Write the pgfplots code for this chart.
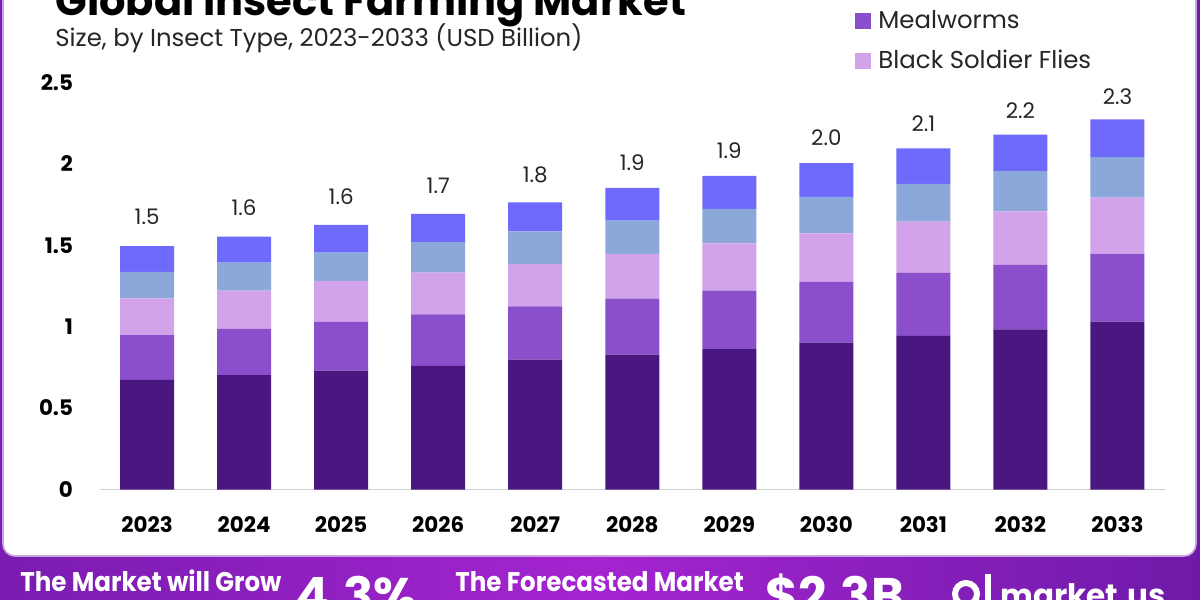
\documentclass[border=0pt]{standalone}
\usepackage{pgfplots}
\usepackage{pgfplotstable}
\pgfplotsset{compat=1.18}
\usepackage{fontspec}
\setmainfont{Poppins}
\usetikzlibrary{shadings}

\definecolor{cBase}{HTML}{4A1680}
\definecolor{cMeal}{HTML}{8B4FCC}
\definecolor{cBSF}{HTML}{D2A3EB}
\definecolor{cFour}{HTML}{8CA7DA}
\definecolor{cFive}{HTML}{6F6AFC}
\definecolor{bandL}{HTML}{7A1CB0}
\definecolor{bandM}{HTML}{A424D0}
\definecolor{bandR}{HTML}{6E1AA8}
\definecolor{panelEdge}{HTML}{C9A6E0}

% market size by insect type, USD billion
\pgfplotstableread{
idx base  meal  bsf   four  five
0   0.673 0.276 0.225 0.163 0.158
1   0.703 0.283 0.235 0.172 0.160
2   0.730 0.299 0.252 0.174 0.170
3   0.760 0.316 0.256 0.187 0.174
4   0.797 0.328 0.260 0.201 0.178
5   0.828 0.344 0.275 0.205 0.200
6   0.863 0.358 0.291 0.211 0.203
7   0.902 0.373 0.299 0.223 0.207
8   0.943 0.389 0.313 0.232 0.218
9   0.983 0.399 0.327 0.246 0.225
10  1.031 0.416 0.346 0.248 0.233
}\market
\pgfplotstablecreatecol[create col/expr={\thisrow{base}+\thisrow{meal}+\thisrow{bsf}+\thisrow{four}+\thisrow{five}}]{total}\market

\begin{document}
\begin{tikzpicture}[x=0.5pt,y=0.5pt]
\path[use as bounding box] (0,0) rectangle (1200,600);
\clip (0,0) rectangle (1200,600);

% purple band and white panel
\shade[left color=bandL, right color=bandR, middle color=bandM] (0,0) rectangle (1200,600);
\fill[white, draw=panelEdge, line width=0.8pt, rounded corners=6pt] (3,44) rectangle (1196,640);

% headings
\node[anchor=base west, inner sep=0pt, font=\fontsize{20.8}{24}\selectfont\bfseries] at (55,584) {Global Insect Farming Market};
\node[anchor=base west, inner sep=0pt, font=\fontsize{12.2}{14}\selectfont, text=black!85] at (55,553) {Size, by Insect Type, 2023-2033 (USD Billion)};

\begin{axis}[
  at={(50pt,55.25pt)}, anchor=south west,
  scale only axis, width=532.5pt, height=203.5pt,
  ybar stacked, bar width=27pt,
  xmin=-0.485, xmax=10.49, ymin=0, ymax=2.5,
  clip=false,
  axis x line*=bottom, axis y line*=left,
  x axis line style={draw=black!18, line width=0.6pt, -},
  y axis line style={draw=none},
  tick style={draw=none}, major tick length=0pt,
  xtick={0,...,10},
  xticklabels={2023,2024,2025,2026,2027,2028,2029,2030,2031,2032,2033},
  ytick={0,0.5,1,1.5,2,2.5},
  yticklabels={0,0.5,1,1.5,2,2.5},
  xticklabel style={font=\fontsize{10.7}{12}\selectfont\bfseries, yshift=-10pt},
  yticklabel style={font=\fontsize{10.7}{12}\selectfont\bfseries, xshift=-10pt},
  legend cell align=left,
  legend style={at={(axis description cs:0.709,1.186)}, anchor=north west,
    draw=none, fill=none, row sep=6.5pt, inner sep=0pt,
    font=\fontsize{12.2}{14}\selectfont,
    nodes={inner sep=1.5pt, text=black!85}},
  legend image code/.code={\fill[#1] (0pt,-4pt) rectangle (8pt,4pt);},
  legend style={/tikz/every even column/.append style={column sep=0pt}},
]
\addplot[fill=cBase, draw=none, forget plot] table[x=idx, y=base] {\market};
\addplot[fill=cMeal, draw=none] table[x=idx, y=meal] {\market};
\addlegendentry{\hspace{2pt}Mealworms}
\addplot[fill=cBSF, draw=none] table[x=idx, y=bsf] {\market};
\addlegendentry{\hspace{2pt}Black Soldier Flies}
\addplot[fill=cFour, draw=none, forget plot] table[x=idx, y=four] {\market};
\addplot[fill=cFive, draw=none, forget plot,
  point meta=explicit,
  nodes near coords={\pgfmathprintnumber[fixed, precision=1, fixed zerofill, assume math mode=true]{\pgfplotspointmeta}},
  every node near coord/.append style={font=\fontsize{10.7}{12}\selectfont, text=black!85, anchor=south, yshift=13.5pt}
] table[x=idx, y=five, meta=total] {\market};
\end{axis}

% band captions
\begin{scope}[text=white]
\node[anchor=base west, inner sep=0pt, font=\fontsize{13.5}{15}\selectfont\bfseries\addfontfeature{FakeStretch=0.91}] at (20,9) {The Market will Grow};
\node[anchor=base west, inner sep=0pt, font=\fontsize{25}{28}\selectfont\bfseries] at (295,-13) {4.3\%};
\node[anchor=base west, inner sep=0pt, font=\fontsize{13.5}{15}\selectfont\bfseries\addfontfeature{FakeStretch=0.91}] at (455,9) {The Forecasted Market};
\node[anchor=base west, inner sep=0pt, font=\fontsize{25}{28}\selectfont\bfseries] at (765,-13) {\$2.3B};
\draw[white, line width=3pt] (966,6) circle (11);
\fill[white] (985,-4) rectangle (991,26);
\node[anchor=base west, inner sep=0pt, font=\fontsize{15.5}{18}\selectfont\bfseries] at (1000,-6) {market.us};
\end{scope}
\end{tikzpicture}
\end{document}
